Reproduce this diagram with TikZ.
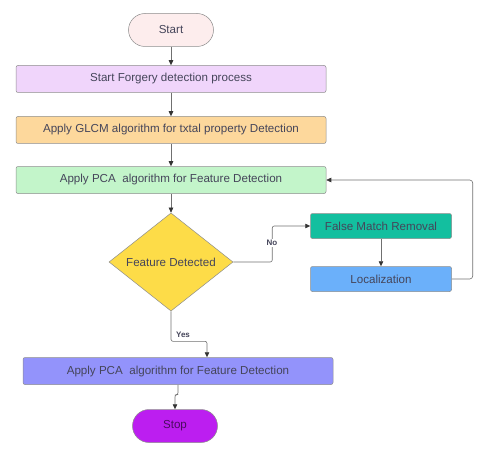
\documentclass[tikz,border=0pt]{standalone}
\usepackage{fontspec}
\setmainfont{Liberation Sans}
\usetikzlibrary{arrows.meta,shapes.geometric}
\definecolor{linegray}{HTML}{707070}
\definecolor{inkgray}{HTML}{45455A}
\definecolor{startpink}{HTML}{FDEDED}
\definecolor{lilac}{HTML}{F0D5FB}
\definecolor{peach}{HTML}{FDD89C}
\definecolor{mint}{HTML}{C3F5CA}
\definecolor{sun}{HTML}{FDDC48}
\definecolor{teal}{HTML}{13BF9F}
\definecolor{sky}{HTML}{6BB0FA}
\definecolor{periwinkle}{HTML}{9393FB}
\definecolor{violet}{HTML}{BC1EF0}

\begin{document}
\begin{tikzpicture}[x=1pt,y=-1pt,font=\fontsize{11.6}{13}\selectfont,
  box/.style={draw=linegray!80,line width=0.5pt,rounded corners=2pt,
    minimum width=310pt,minimum height=27pt,inner sep=0pt,text=inkgray},
  sidebox/.style={box,minimum width=141pt,minimum height=25pt},
  term/.style={draw=linegray!80,line width=0.5pt,rounded corners=16.5pt,
    minimum width=85pt,minimum height=33pt,inner sep=0pt,text=inkgray},
  flow/.style={draw=linegray,line width=0.6pt,
    -{Triangle[length=5pt,width=4.5pt,color=black!80]}},
  tag/.style={fill=white,inner sep=1pt,font=\fontsize{8}{9}\selectfont\bfseries,text=inkgray}]
  \useasboundingbox (0,0) rectangle (480,460);

  \node[term,fill=startpink] (start) at (171,30) {Start};
  \foreach \nm/\y/\col/\txt in {init/79/lilac/Start Forgery detection process,
      glcm/130/peach/Apply GLCM algorithm for txtal property Detection,
      pca/180/mint/Apply PCA\ \ algorithm for Feature Detection} {
    \node[box,fill=\col] (\nm) at (171,\y) {\txt};
  }
  \node[diamond,draw=linegray!80,line width=0.5pt,fill=sun,
    minimum width=124pt,minimum height=88pt,inner sep=0pt,text=inkgray] (dec) at (171,262) {Feature Detected};
  \node[sidebox,fill=teal] (fmr) at (381,226) {False Match Removal};
  \node[sidebox,fill=sky] (loc) at (381,279) {Localization};
  \node[box,fill=periwinkle] (fin) at (178,371) {Apply PCA\ \ algorithm for Feature Detection};
  \node[term,fill=violet,text=violet!40!black] (stop) at (175,426) {Stop};

  \draw[flow] (start) -- (init);
  \draw[flow] (init) -- (glcm);
  \draw[flow] (glcm) -- (pca);
  \draw[flow] (pca) -- (dec);
  \draw[flow,rounded corners=2pt] (dec.east) -- ++(39,0) coordinate (nobend)
    |- (fmr.west);
  \node[tag] at (272,243) {No};
  \draw[flow] (fmr) -- (loc);
  \draw[flow,rounded corners=3pt] (loc.east) -- ++(21,0) |- (pca.east);
  \draw[flow,rounded corners=2pt] (dec.south) -- ++(0,30) coordinate (yesbend)
    -| ([xshift=29pt]fin.north);
  \node[tag] at (183,335) {Yes};
  \draw[flow,rounded corners=2pt] (fin.south) -- ++(0,10) -| (stop.north);
\end{tikzpicture}
\end{document}
